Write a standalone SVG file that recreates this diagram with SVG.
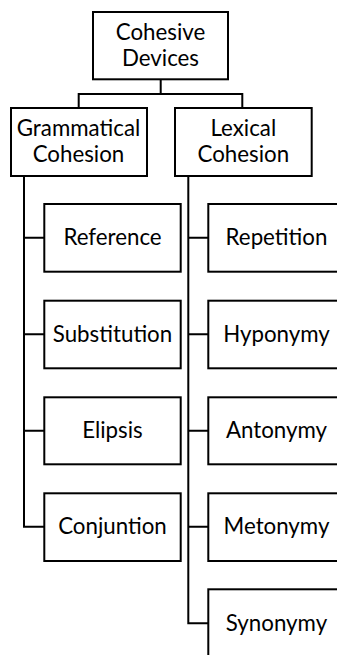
<svg xmlns="http://www.w3.org/2000/svg" width="337" height="655" viewBox="0 0 337 655">
<style>
rect{fill:#fff;stroke:#000;stroke-width:2}
.c{fill:none;stroke:#000;stroke-width:2}
text{font-family:Lato,"Liberation Sans",sans-serif;font-size:22.3px;fill:#000;text-anchor:middle}
</style>
<rect x="0" y="0" width="337" height="655" style="stroke:none"/>
<g id="connectors">
<path class="c" d="M160.7 79.3V94M78.7 108V94H242.3V108"/>
<path class="c" d="M24 176V526.7H44.3M24 237.7H44.3M24 334.3H44.3M24 430.7H44.3"/>
<path class="c" d="M188.3 176V623.3H208.3M188.3 237.7H208.3M188.3 334.3H208.3M188.3 430.7H208.3M188.3 526.7H208.3"/>
</g>
<g id="cohesive-devices"><rect x="93" y="12" width="135" height="67.3"/><text x="160.5" y="40">Cohesive</text><text x="160.5" y="66">Devices</text></g>
<g id="grammatical"><rect x="11" y="108" width="136" height="68"/><text x="78.5" y="136">Grammatical</text><text x="78.5" y="162">Cohesion</text></g>
<g id="lexical"><rect x="175" y="108" width="136.7" height="68"/><text x="243.3" y="136">Lexical</text><text x="243.3" y="162">Cohesion</text></g>
<g id="reference"><rect x="44.3" y="204" width="136.4" height="67.7"/><text x="112.5" y="245">Reference</text></g>
<g id="substitution"><rect x="44.3" y="300.7" width="136.4" height="67.6"/><text x="112.5" y="341.7">Substitution</text></g>
<g id="elipsis"><rect x="44.3" y="397.3" width="136.4" height="67"/><text x="112.5" y="438">Elipsis</text></g>
<g id="conjuntion"><rect x="44.3" y="493.3" width="136.4" height="67.7"/><text x="112.5" y="534">Conjuntion</text></g>
<g id="repetition"><rect x="208.3" y="204" width="136.4" height="67.7"/><text x="276.5" y="245">Repetition</text></g>
<g id="hyponymy"><rect x="208.3" y="300.7" width="136.4" height="67.6"/><text x="276.5" y="341.7">Hyponymy</text></g>
<g id="antonymy"><rect x="208.3" y="397.3" width="136.4" height="67"/><text x="276.5" y="438">Antonymy</text></g>
<g id="metonymy"><rect x="208.3" y="493.3" width="136.4" height="67.7"/><text x="276.5" y="534">Metonymy</text></g>
<g id="synonymy"><rect x="208.3" y="589.3" width="136.4" height="80"/><text x="276.5" y="630.5">Synonymy</text></g>
</svg>
